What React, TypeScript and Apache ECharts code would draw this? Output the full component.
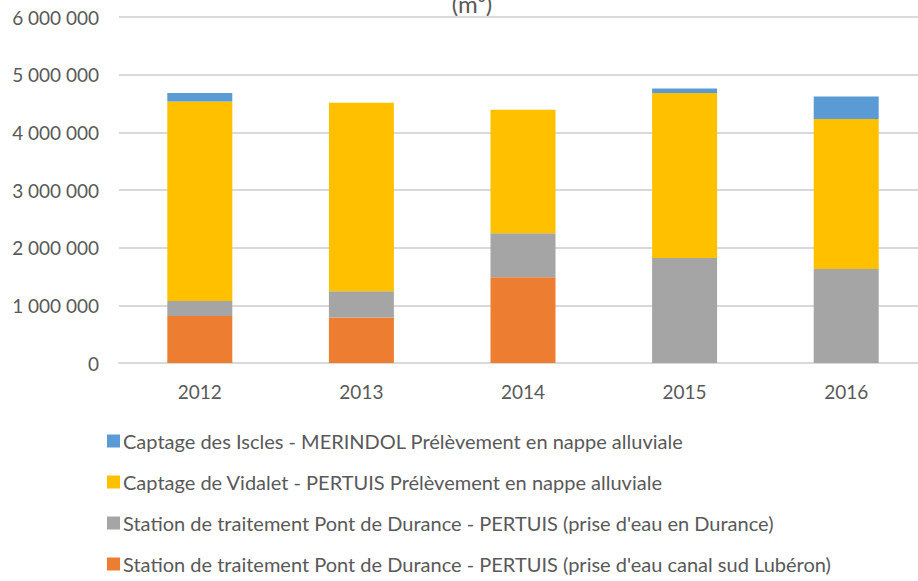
import React, { useEffect, useRef } from "react";
import * as echarts from "echarts";

const years = ["2012", "2013", "2014", "2015", "2016"];
const seriesNames = [
  "Station de traitement Pont de Durance - PERTUIS (prise d'eau canal sud Lubéron)",
  "Station de traitement Pont de Durance - PERTUIS (prise d'eau en Durance)",
  "Captage de Vidalet - PERTUIS Prélèvement en nappe alluviale",
  "Captage des Iscles - MERINDOL Prélèvement en nappe alluviale",
];
const canalSudLuberon = [814000, 790000, 1487000, 0, 0];
const priseDurance = [261000, 453000, 765000, 1820000, 1630000];
const vidalet = [3461000, 3270000, 2138000, 2860000, 2600000];
const iscles = [146000, 0, 0, 80000, 390000];
const colors = ["#ED7D31", "#A5A5A5", "#FFC000", "#5B9BD5"];
const titleText = "(m³)";

const FONT = "Lato, 'Open Sans', sans-serif";

export default function App() {
  const ref = useRef<HTMLDivElement>(null);
  useEffect(() => {
    if (!ref.current) return;
    const chart = echarts.init(ref.current, undefined, { renderer: "svg" });
    const values = [canalSudLuberon, priseDurance, vidalet, iscles];
    chart.setOption({
      animation: false,
      textStyle: { fontFamily: FONT },
      graphic: [
        {
          type: "text",
          x: 472,
          y: 15,
          style: {
            text: titleText,
            font: `24px ${FONT}`,
            fill: "#595959",
            align: "center",
            verticalAlign: "bottom",
          },
        },
      ],
      legend: {
        orient: "vertical",
        left: 102,
        top: 426,
        itemGap: 21,
        itemWidth: 13,
        itemHeight: 13,
        icon: "rect",
        data: [seriesNames[3], seriesNames[2], seriesNames[1], seriesNames[0]],
        textStyle: { fontSize: 20, color: "#595959", fontFamily: FONT, padding: [0, 0, 0, -2] },
      },
      grid: { left: 119, width: 808, top: 17, height: 346, containLabel: false },
      xAxis: {
        type: "category",
        data: years,
        axisTick: { show: false },
        axisLine: { lineStyle: { color: "#D9D9D9", width: 2 } },
        axisLabel: { color: "#595959", fontSize: 19, margin: 19, fontFamily: FONT },
      },
      yAxis: {
        type: "value",
        min: 0,
        max: 6000000,
        interval: 1000000,
        axisLabel: {
          color: "#595959",
          fontSize: 19,
          margin: 20,
          fontFamily: FONT,
          formatter: (v: number) => v.toString().replace(/\B(?=(\d{3})+(?!\d))/g, " "),
        },
        splitLine: { lineStyle: { color: "#D9D9D9", width: 2 } },
      },
      series: values.map((d, i) => ({
        name: seriesNames[i],
        type: "bar",
        stack: "total",
        barWidth: 65,
        data: d,
        itemStyle: { color: colors[i] },
      })),
    });
    return () => chart.dispose();
  }, []);
  return (
    <div style={{ width: 918, height: 581, position: "absolute", left: 0, top: 0, overflow: "hidden" }}>
      <div ref={ref} style={{ width: 930, height: 581, position: "absolute", left: 0, top: 0 }} />
    </div>
  );
}
